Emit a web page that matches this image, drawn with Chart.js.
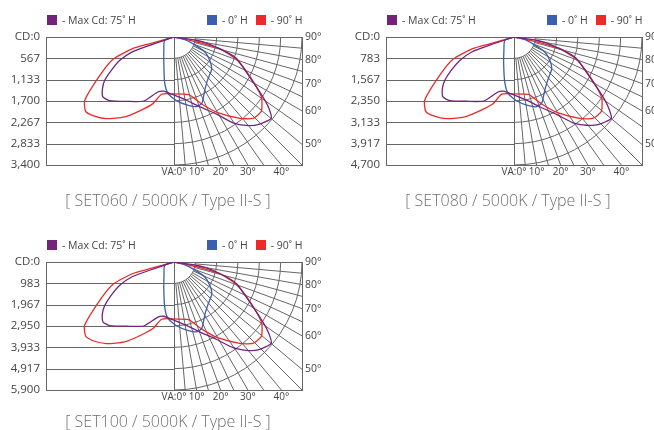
<!DOCTYPE html>
<html><head><meta charset="utf-8">
<script src="https://cdn.jsdelivr.net/npm/chart.js@4.4.1/dist/chart.umd.min.js"></script>
<style>
html,body{margin:0;padding:0;background:#fff;width:654px;height:430px;overflow:hidden;}
.panel{position:absolute;width:330px;height:215px;}
.panel canvas{position:absolute;left:0;top:0;}
.leg{position:absolute;top:14px;height:12px;font:10.5px "Open Sans",sans-serif;color:#444;white-space:nowrap;line-height:12px;}
.sw{display:inline-block;width:10px;height:10px;vertical-align:-1px;margin-right:5px;}
.ttl{position:absolute;top:189px;left:0;width:336px;text-align:center;font:300 16px "Open Sans",sans-serif;color:#6f6f6f;white-space:nowrap;}
</style></head>
<body>
<div class="panel" id="p0" style="left:0;top:0;"></div>
<div class="panel" id="p1" style="left:340px;top:0;"></div>
<div class="panel" id="p2" style="left:0;top:225px;"></div>
<script>
// ---------- data ----------
const titles = ['[ SET060 / 5000K / Type II-S ]', '[ SET080 / 5000K / Type II-S ]', '[ SET100 / 5000K / Type II-S ]'];
const cdMaxima = [3400, 4700, 5900];
const cdLabels060 = ['CD:0', '567', '1,133', '1,700', '2,267', '2,833', '3,400'];
const cdLabels080 = ['CD:0', '783', '1,567', '2,350', '3,133', '3,917', '4,700'];
const cdLabels100 = ['CD:0', '983', '1,967', '2,950', '3,933', '4,917', '5,900'];
const legendNames = ['-  Max Cd: 75˚ H', '- 0˚ H', '- 90˚ H'];
const seriesColors = ['#74237b', '#3b5eaf', '#ec2a2a'];
const vaBottom = [0, 10, 20, 30, 40];
const vaBottomLabels = ['VA:0°', '10°', '20°', '30°', '40°'];
const vaSide = [90, 80, 70, 60, 50];
const vaSideLabels = ['90°', '80°', '70°', '60°', '50°'];
const gridRays = [5, 10, 15, 20, 25, 30, 35, 40, 45, 50, 55, 60, 65, 70, 75, 80, 85];

// curves: [lateral cd (left negative), downward cd]
const max75_060 = [[0,0],[-650,220],[-1120,400],[-1440,620],[-1660,880],[-1840,1150],[-1900,1370],[-1890,1590],[-1710,1690],[-1260,1710],[-800,1700],[-430,1460],[-270,1440],[-60,1520],[330,1680],[680,1850],[1130,2050],[1570,2280],[1920,2350],[2230,2330],[2580,2160],[2520,1890],[2360,1590],[2100,1200],[1660,570],[1210,310],[680,100],[0,0]];
const h0_060 = [[0,0],[-250,90],[-270,350],[-270,700],[-250,1200],[-160,1500],[60,1690],[360,1810],[600,1850],[740,1760],[790,1550],[830,1360],[900,1120],[1000,860],[960,650],[820,400],[520,190],[260,60],[0,0]];
const h90_060 = [[0,0],[-650,180],[-1100,310],[-1620,590],[-1970,1020],[-2370,1680],[-2350,1970],[-2150,2090],[-1800,2170],[-1310,2120],[-910,1960],[-560,1770],[-330,1520],[-30,1510],[390,1530],[500,1600],[770,1800],[1160,2010],[1750,2160],[2100,2160],[2320,1970],[2320,1590],[2010,1040],[1640,580],[1210,310],[760,170],[420,90],[0,0]];

const max75_080 = [[0,0],[-890,300],[-1550,550],[-1990,860],[-2300,1220],[-2540,1590],[-2630,1890],[-2610,2200],[-2360,2340],[-1750,2360],[-1110,2350],[-590,2020],[-380,1990],[-80,2100],[460,2320],[940,2560],[1560,2840],[2170,3150],[2660,3240],[3080,3220],[3570,2990],[3480,2620],[3270,2200],[2900,1650],[2290,790],[1680,430],[940,140],[0,0]];
const h0_080 = [[0,0],[-340,120],[-370,490],[-380,970],[-340,1650],[-220,2070],[90,2340],[500,2510],[830,2560],[1020,2430],[1090,2140],[1150,1880],[1250,1550],[1380,1190],[1330,890],[1130,550],[720,270],[360,80],[0,0]];
const h90_080 = [[0,0],[-890,250],[-1520,430],[-2240,820],[-2730,1410],[-3280,2320],[-3240,2730],[-2970,2890],[-2480,3000],[-1810,2930],[-1260,2710],[-770,2450],[-450,2100],[-40,2090],[540,2110],[690,2210],[1060,2490],[1600,2780],[2410,2990],[2900,2990],[3210,2730],[3210,2200],[2780,1440],[2270,800],[1680,430],[1050,230],[580,120],[0,0]];

const max75_100 = [[0,0],[-1120,380],[-1950,690],[-2500,1070],[-2890,1530],[-3190,2000],[-3300,2380],[-3270,2770],[-2960,2930],[-2190,2960],[-1400,2950],[-740,2540],[-470,2500],[-110,2640],[570,2920],[1180,3220],[1950,3560],[2720,3950],[3340,4070],[3870,4050],[4480,3750],[4370,3290],[4100,2770],[3640,2070],[2880,1000],[2110,530],[1180,180],[0,0]];
const h0_100 = [[0,0],[-430,150],[-460,610],[-470,1210],[-430,2070],[-280,2600],[110,2940],[630,3150],[1050,3220],[1280,3060],[1370,2690],[1440,2360],[1570,1950],[1740,1490],[1670,1120],[1420,690],[910,340],[450,110],[0,0]];
const h90_100 = [[0,0],[-1120,310],[-1900,530],[-2810,1030],[-3420,1770],[-4120,2920],[-4070,3420],[-3730,3630],[-3120,3760],[-2270,3680],[-1580,3400],[-970,3070],[-570,2640],[-50,2620],[680,2660],[860,2780],[1340,3130],[2010,3490],[3030,3750],[3640,3750],[4030,3420],[4030,2770],[3490,1810],[2840,1000],[2110,540],[1320,290],[720,150],[0,0]];

const panels = [
  {title: titles[0], max: cdMaxima[0], labels: cdLabels060, curves: [max75_060, h0_060, h90_060]},
  {title: titles[1], max: cdMaxima[1], labels: cdLabels080, curves: [max75_080, h0_080, h90_080]},
  {title: titles[2], max: cdMaxima[2], labels: cdLabels100, curves: [max75_100, h0_100, h90_100]}
];

// ---------- drawing ----------
const FONT = '"Open Sans", sans-serif';
const GRID = '#666';
const rad = d => d * Math.PI / 180;

const polarGrid = {
  id: 'polarGrid',
  beforeDatasetsDraw(chart) {
    const {ctx, chartArea: a, scales: {x, y}} = chart;
    const cx = x.getPixelForValue(0);
    const top = y.getPixelForValue(0);
    const ringVals = y.ticks.map(t => t.value).filter(v => v > 0);
    ctx.save();
    ctx.beginPath();
    ctx.rect(a.left, a.top, a.width, a.height);
    ctx.clip();
    ctx.strokeStyle = GRID;
    ctx.lineWidth = 1;
    ringVals.forEach(v => {
      const py = Math.round(y.getPixelForValue(v)) + 0.5;
      ctx.beginPath(); ctx.moveTo(a.left, py); ctx.lineTo(cx, py); ctx.stroke();
    });
    const radii = ringVals.map(v => y.getPixelForValue(v) - top);
    radii.forEach(r => {
      ctx.beginPath(); ctx.arc(cx, top, r, 0, Math.PI / 2); ctx.stroke();
    });
    const r1 = radii[0];
    const W = a.right - cx, H = a.bottom - top;
    gridRays.forEach(ang => {
      const s = Math.sin(rad(ang)), c = Math.cos(rad(ang));
      const t = Math.min(H / c, W / s);
      ctx.beginPath();
      ctx.moveTo(cx + r1 * s, top + r1 * c);
      ctx.lineTo(cx + t * s, top + t * c);
      ctx.stroke();
    });
    ctx.beginPath(); ctx.moveTo(Math.round(cx) + 0.5, a.top); ctx.lineTo(Math.round(cx) + 0.5, a.bottom); ctx.stroke();
    ctx.restore();
    ctx.save();
    ctx.strokeStyle = GRID; ctx.lineWidth = 1;
    ctx.strokeRect(Math.round(a.left) + 0.5, Math.round(a.top) + 0.5, Math.round(a.width), Math.round(a.height));
    ctx.restore();
  }
};

const noGrid = {display: false, drawTicks: false, tickLength: 0};

panels.forEach((p, i) => {
  const host = document.getElementById('p' + i);
  const cv = document.createElement('canvas');
  cv.width = 330; cv.height = 215;
  cv.style.width = '330px'; cv.style.height = '215px';
  host.appendChild(cv);

  const l1 = document.createElement('div');
  l1.className = 'leg'; l1.style.left = '47px';
  l1.innerHTML = '<span class="sw" style="background:' + seriesColors[0] + '"></span>' + legendNames[0];
  host.appendChild(l1);
  const l2 = document.createElement('div');
  l2.className = 'leg'; l2.style.left = '207px';
  l2.innerHTML = '<span class="sw" style="background:' + seriesColors[1] + '"></span>' + legendNames[1] +
    '<span class="sw" style="background:' + seriesColors[2] + ';margin-left:8px"></span>' + legendNames[2];
  host.appendChild(l2);
  const t = document.createElement('div');
  t.className = 'ttl'; t.textContent = p.title;
  if (i === 2) t.style.top = '185px';
  host.appendChild(t);

  const M = p.max;
  new Chart(cv, {
    type: 'scatter',
    data: {
      datasets: p.curves.map((c, k) => ({
        data: c.map(q => ({x: q[0], y: q[1]})),
        showLine: true, borderColor: seriesColors[k], backgroundColor: seriesColors[k],
        borderWidth: 1.3, pointRadius: 0, tension: 0.2, fill: false, yAxisID: 'y'
      }))
    },
    options: {
      responsive: false, animation: false, devicePixelRatio: 1,
      layout: {padding: {top: 37, left: 0, right: 0, bottom: 0}},
      plugins: {legend: {display: false}, tooltip: {enabled: false}, title: {display: false}},
      scales: {
        x: {
          type: 'linear', min: -M, max: M,
          grid: noGrid, border: {display: false},
          afterBuildTicks: s => { s.ticks = vaBottom.map(a => ({value: M * Math.tan(rad(a))})); },
          afterFit: s => { s.height = 50; },
          ticks: {autoSkip: false, maxRotation: 0, padding: 1, color: '#444',
            font: {family: FONT, size: 10}, callback: (v, idx) => vaBottomLabels[idx]}
        },
        y: {
          type: 'linear', position: 'left', min: 0, max: M, reverse: true,
          grid: noGrid, border: {display: false},
          afterBuildTicks: s => { s.ticks = p.labels.map((l, k) => ({value: M * k / (p.labels.length - 1)})); },
          afterFit: s => { s.width = 46; },
          ticks: {autoSkip: false, padding: 6, color: '#444',
            font: {family: FONT, size: 11.5}, callback: (v, idx) => p.labels[idx]}
        },
        y2: {
          type: 'linear', position: 'right', min: 0, max: M, reverse: true,
          grid: noGrid, border: {display: false},
          afterBuildTicks: s => { s.ticks = vaSide.map(a => ({value: M / Math.tan(rad(a))})); },
          afterFit: s => { s.width = 28; },
          ticks: {autoSkip: false, padding: 3, color: '#444',
            font: {family: FONT, size: 10.5}, callback: (v, idx) => vaSideLabels[idx]}
        }
      }
    },
    plugins: [polarGrid]
  });
});
</script>
</body></html>
